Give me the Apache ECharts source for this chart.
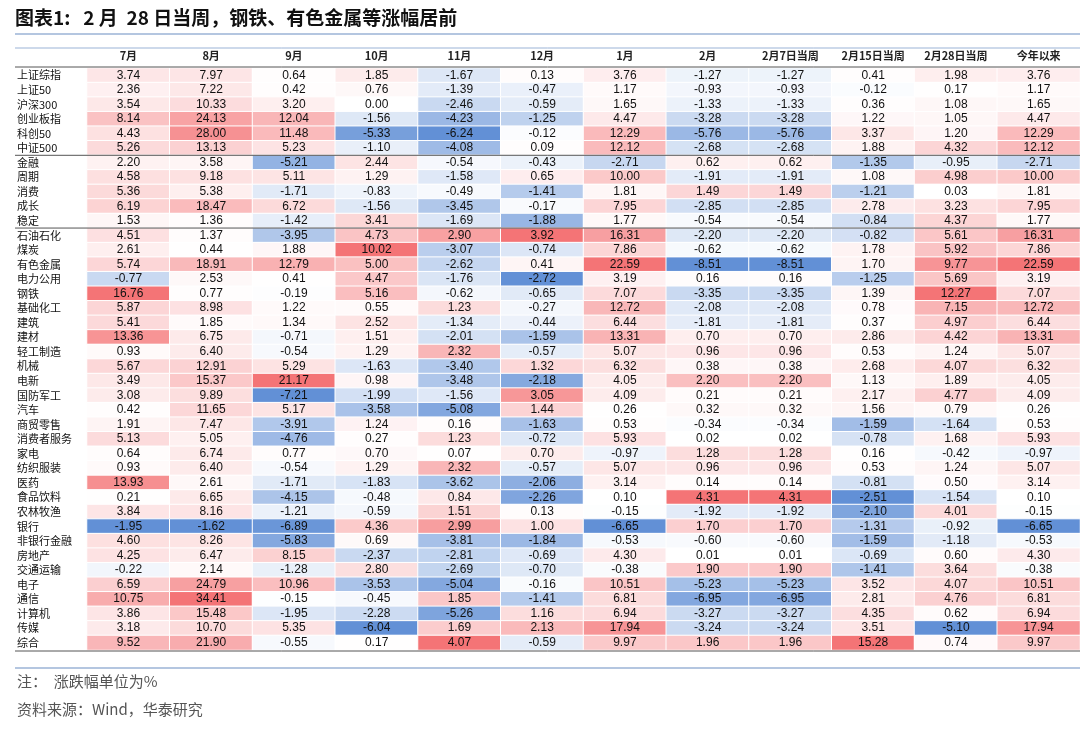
<!DOCTYPE html>
<html lang="zh">
<head>
<meta charset="UTF-8">
<title>2月28日当周涨跌幅</title>
<style>
  html,body{margin:0;padding:0;background:#fff;}
  #chart{width:1080px;height:730px;}
</style>
</head>
<body>
<div id="chart"></div>
<script src="https://cdn.jsdelivr.net/npm/echarts@6/dist/echarts.min.js"></script>
<script>
var columns = ['7月','8月','9月','10月','11月','12月','1月','2月','2月7日当周','2月15日当周','2月28日当周','今年以来'];
var rowNames = ['上证综指','上证50','沪深300','创业板指','科创50','中证500','金融','周期','消费','成长','稳定',
  '石油石化','煤炭','有色金属','电力公用','钢铁','基础化工','建筑','建材','轻工制造','机械','电新','国防军工','汽车',
  '商贸零售','消费者服务','家电','纺织服装','医药','食品饮料','农林牧渔','银行','非银行金融','房地产','交通运输',
  '电子','通信','计算机','传媒','综合'];
var values = [
  [3.74,7.97,0.64,1.85,-1.67,0.13,3.76,-1.27,-1.27,0.41,1.98,3.76],
  [2.36,7.22,0.42,0.76,-1.39,-0.47,1.17,-0.93,-0.93,-0.12,0.17,1.17],
  [3.54,10.33,3.20,0.00,-2.46,-0.59,1.65,-1.33,-1.33,0.36,1.08,1.65],
  [8.14,24.13,12.04,-1.56,-4.23,-1.25,4.47,-3.28,-3.28,1.22,1.05,4.47],
  [4.43,28.00,11.48,-5.33,-6.24,-0.12,12.29,-5.76,-5.76,3.37,1.20,12.29],
  [5.26,13.13,5.23,-1.10,-4.08,0.09,12.12,-2.68,-2.68,1.88,4.32,12.12],
  [2.20,3.58,-5.21,2.44,-0.54,-0.43,-2.71,0.62,0.62,-1.35,-0.95,-2.71],
  [4.58,9.18,5.11,1.29,-1.58,0.65,10.00,-1.91,-1.91,1.08,4.98,10.00],
  [5.36,5.38,-1.71,-0.83,-0.49,-1.41,1.81,1.49,1.49,-1.21,0.03,1.81],
  [6.19,18.47,6.72,-1.56,-3.45,-0.17,7.95,-2.85,-2.85,2.78,3.23,7.95],
  [1.53,1.36,-1.42,3.41,-1.69,-1.88,1.77,-0.54,-0.54,-0.84,4.37,1.77],
  [4.51,1.37,-3.95,4.73,2.90,3.92,16.31,-2.20,-2.20,-0.82,5.61,16.31],
  [2.61,0.44,1.88,10.02,-3.07,-0.74,7.86,-0.62,-0.62,1.78,5.92,7.86],
  [5.74,18.91,12.79,5.00,-2.62,0.41,22.59,-8.51,-8.51,1.70,9.77,22.59],
  [-0.77,2.53,0.41,4.47,-1.76,-2.72,3.19,0.16,0.16,-1.25,5.69,3.19],
  [16.76,0.77,-0.19,5.16,-0.62,-0.65,7.07,-3.35,-3.35,1.39,12.27,7.07],
  [5.87,8.98,1.22,0.55,1.23,-0.27,12.72,-2.08,-2.08,0.78,7.15,12.72],
  [5.41,1.85,1.34,2.52,-1.34,-0.44,6.44,-1.81,-1.81,0.37,4.97,6.44],
  [13.36,6.75,-0.71,1.51,-2.01,-1.59,13.31,0.70,0.70,2.86,4.42,13.31],
  [0.93,6.40,-0.54,1.29,2.32,-0.57,5.07,0.96,0.96,0.53,1.24,5.07],
  [5.67,12.91,5.29,-1.63,-3.40,1.32,6.32,0.38,0.38,2.68,4.07,6.32],
  [3.49,15.37,21.17,0.98,-3.48,-2.18,4.05,2.20,2.20,1.13,1.89,4.05],
  [3.08,9.89,-7.21,-1.99,-1.56,3.05,4.09,0.21,0.21,2.17,4.77,4.09],
  [0.42,11.65,5.17,-3.58,-5.08,1.44,0.26,0.32,0.32,1.56,0.79,0.26],
  [1.91,7.47,-3.91,1.24,0.16,-1.63,0.53,-0.34,-0.34,-1.59,-1.64,0.53],
  [5.13,5.05,-4.76,0.27,1.23,-0.72,5.93,0.02,0.02,-0.78,1.68,5.93],
  [0.64,6.74,0.77,0.70,0.07,0.70,-0.97,1.28,1.28,0.16,-0.42,-0.97],
  [0.93,6.40,-0.54,1.29,2.32,-0.57,5.07,0.96,0.96,0.53,1.24,5.07],
  [13.93,2.61,-1.71,-1.83,-3.62,-2.06,3.14,0.14,0.14,-0.81,0.50,3.14],
  [0.21,6.65,-4.15,-0.48,0.84,-2.26,0.10,4.31,4.31,-2.51,-1.54,0.10],
  [3.84,8.16,-1.21,-0.59,1.51,0.13,-0.15,-1.92,-1.92,-2.10,4.01,-0.15],
  [-1.95,-1.62,-6.89,4.36,2.99,1.00,-6.65,1.70,1.70,-1.31,-0.92,-6.65],
  [4.60,8.26,-5.83,0.69,-3.81,-1.84,-0.53,-0.60,-0.60,-1.59,-1.18,-0.53],
  [4.25,6.47,8.15,-2.37,-2.81,-0.69,4.30,0.01,0.01,-0.69,0.60,4.30],
  [-0.22,2.14,-1.28,2.80,-2.69,-0.70,-0.38,1.90,1.90,-1.41,3.64,-0.38],
  [6.59,24.79,10.96,-3.53,-5.04,-0.16,10.51,-5.23,-5.23,3.52,4.07,10.51],
  [10.75,34.41,-0.15,-0.45,1.85,-1.41,6.81,-6.95,-6.95,2.81,4.76,6.81],
  [3.86,15.48,-1.95,-2.28,-5.26,1.16,6.94,-3.27,-3.27,4.35,0.62,6.94],
  [3.18,10.70,5.35,-6.04,1.69,2.13,17.94,-3.24,-3.24,3.51,-5.10,17.94],
  [9.52,21.90,-0.55,0.17,4.07,-0.59,9.97,1.96,1.96,15.28,0.74,9.97]
];
// rows after which a dark separator line is drawn
var groupBreaks = [6, 11];

var G = {left: 87, top: 68, width: 996, height: 582};
var RED = [244, 116, 118], BLUE = [98, 144, 214];

function mix(c, t){
  t = Math.pow(t, 1.15);
  return 'rgb(' + c.map(function(x){ return Math.round(255 + (x - 255) * t); }).join(',') + ')';
}
// per column colour scale, white at 0
var colMin = [], colMax = [];
columns.forEach(function(c, j){
  var col = values.map(function(r){ return r[j]; });
  colMin.push(Math.min.apply(null, col));
  colMax.push(Math.max.apply(null, col));
});
var data = [];
values.forEach(function(r, i){
  r.forEach(function(v, j){
    var color = v >= 0 ? mix(RED, colMax[j] > 0 ? v / colMax[j] : 0) : mix(BLUE, v / colMin[j]);
    data.push({value: [j, i, v], itemStyle: {color: color}});
  });
});

var rowH = G.height / rowNames.length;
var lines = [];
function hline(y, color, w){
  lines.push({type: 'line', shape: {x1: 15, y1: y, x2: 1080, y2: y}, style: {stroke: color, lineWidth: w}, z: 10});
}
hline(34, '#9bb3d6', 1.5);
hline(48, '#9bb3d6', 1);
hline(G.top - 1, '#555', 1);
groupBreaks.forEach(function(b){ hline(G.top + b * rowH, '#555', 1); });
hline(G.top + G.height + 1, '#555', 1);
hline(668, '#9bb3d6', 1.5);

var option = {
  backgroundColor: '#fff',
  textStyle: {fontFamily: 'Noto Sans CJK SC'},
  grid: {left: G.left, top: G.top, width: G.width, height: G.height},
  xAxis: {
    type: 'category', data: columns, position: 'top',
    axisLine: {show: false}, axisTick: {show: false}, splitLine: {show: false},
    axisLabel: {color: '#222', fontSize: 11, fontWeight: 'bold', margin: 7, interval: 0}
  },
  yAxis: {
    type: 'category', data: rowNames, inverse: true,
    axisLine: {show: false}, axisTick: {show: false}, splitLine: {show: false},
    axisLabel: {color: '#111', fontSize: 11, align: 'left', margin: 70, interval: 0}
  },
  series: [{
    type: 'heatmap', data: data,
    itemStyle: {borderColor: '#fff', borderWidth: 1},
    label: {
      show: true, fontSize: 12, color: '#111', fontFamily: 'Liberation Sans',
      formatter: function(p){ return p.value[2].toFixed(2); }
    }
  }],
  graphic: lines.concat([
    {type: 'text', left: 15, top: 8, style: {text: '图表1:   2 月  28 日当周，钢铁、有色金属等涨幅居前', font: 'bold 19px "Noto Sans CJK SC"', fill: '#111'}},
    {type: 'text', left: 17, top: 674, style: {text: '注：  涨跌幅单位为%', font: '15px "Noto Sans CJK SC"', fill: '#555'}},
    {type: 'text', left: 17, top: 702, style: {text: '资料来源：Wind，华泰研究', font: '15px "Noto Sans CJK SC"', fill: '#555'}}
  ])
};
var myChart = echarts.init(document.getElementById('chart'));
myChart.setOption(option);
</script>
</body>
</html>
